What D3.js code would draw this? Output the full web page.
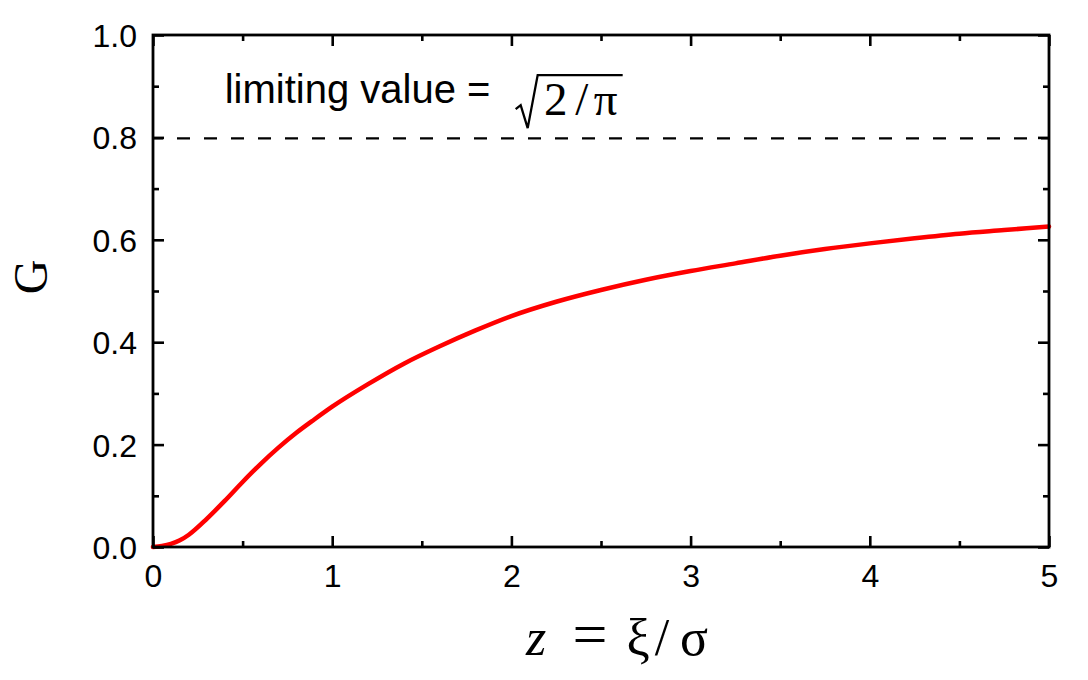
<!DOCTYPE html>
<html>
<head>
<meta charset="utf-8">
<script src="https://cdn.jsdelivr.net/npm/d3@7"></script>
<style>
  body { margin: 0; background: #fff; }
  .tick text { font-family: "Liberation Sans", Arial, sans-serif; font-size: 32px; fill: #000; }
</style>
</head>
<body>
<div id="chart"></div>
<script>
// curve
var zValues = [0, 0.05, 0.1, 0.15, 0.2, 0.3, 0.4, 0.5, 0.6, 0.7, 0.8, 0.9, 1.0, 1.2, 1.4, 1.6, 1.8, 2.0,
               2.25, 2.5, 2.75, 3.0, 3.25, 3.5, 3.75, 4.0, 4.25, 4.5, 4.75, 5.0];
var gValues = [0, 0.002, 0.006, 0.013, 0.024, 0.055, 0.090, 0.127, 0.162, 0.194, 0.223, 0.249, 0.274, 0.318, 0.358, 0.392, 0.423, 0.451,
               0.479, 0.502, 0.522, 0.539, 0.554, 0.569, 0.582, 0.593, 0.603, 0.612, 0.619, 0.626];
var limitValue = 0.798; // sqrt(2/pi)

var xTicks = [0, 1, 2, 3, 4, 5];
var xMinorTicks = [0.5, 1.5, 2.5, 3.5, 4.5];
var yTicks = [0, 0.2, 0.4, 0.6, 0.8, 1.0];
var yMinorTicks = [0.1, 0.3, 0.5, 0.7, 0.9];

var width = 1088, height = 680;
var margin = {top: 35, right: 39, bottom: 133, left: 153};
var plotW = width - margin.left - margin.right;
var plotH = height - margin.top - margin.bottom;

var svg = d3.select("#chart").append("svg")
    .attr("width", width)
    .attr("height", height)
    .style("background", "#fff");

var g = svg.append("g").attr("transform", "translate(" + margin.left + "," + margin.top + ")");

var x = d3.scaleLinear().domain([0, 5]).range([0, plotW]);
var y = d3.scaleLinear().domain([0, 1]).range([plotH, 0]);

// dashed limit line
g.append("line")
    .attr("x1", x(0)).attr("x2", x(5))
    .attr("y1", y(limitValue)).attr("y2", y(limitValue))
    .attr("stroke", "#000")
    .attr("stroke-width", 2.2)
    .attr("stroke-dasharray", "13,14")
    .attr("stroke-dashoffset", 3);

// curve
var points = zValues.map(function(z, i) { return [z, gValues[i]]; });
var line = d3.line()
    .x(function(d) { return x(d[0]); })
    .y(function(d) { return y(d[1]); })
    .curve(d3.curveMonotoneX);

g.append("path")
    .datum(points)
    .attr("d", line)
    .attr("fill", "none")
    .attr("stroke", "#ff0000")
    .attr("stroke-width", 4.5)
    .attr("stroke-linecap", "round");

// axes, ticks pointing inward on all four sides
var styleAxis = function(sel) {
    sel.select(".domain").remove();
    sel.selectAll(".tick line").attr("stroke", "#000").attr("stroke-width", 2.6);
};

g.append("g").attr("transform", "translate(0," + plotH + ")")
    .call(d3.axisBottom(x).tickValues(xTicks).tickSize(-11).tickPadding(17).tickFormat(d3.format("d")))
    .call(styleAxis);
g.append("g").attr("transform", "translate(0," + plotH + ")")
    .call(d3.axisBottom(x).tickValues(xMinorTicks).tickSize(-6).tickFormat(""))
    .call(styleAxis);
g.append("g")
    .call(d3.axisTop(x).tickValues(xTicks).tickSize(-11).tickFormat(""))
    .call(styleAxis);
g.append("g")
    .call(d3.axisTop(x).tickValues(xMinorTicks).tickSize(-6).tickFormat(""))
    .call(styleAxis);

g.append("g")
    .call(d3.axisLeft(y).tickValues(yTicks).tickSize(-11).tickPadding(16).tickFormat(d3.format(".1f")))
    .call(styleAxis)
    .selectAll(".tick text").attr("dy", "0.36em");
g.append("g")
    .call(d3.axisLeft(y).tickValues(yMinorTicks).tickSize(-6).tickFormat(""))
    .call(styleAxis);
g.append("g").attr("transform", "translate(" + plotW + ",0)")
    .call(d3.axisRight(y).tickValues(yTicks).tickSize(-11).tickFormat(""))
    .call(styleAxis);
g.append("g").attr("transform", "translate(" + plotW + ",0)")
    .call(d3.axisRight(y).tickValues(yMinorTicks).tickSize(-6).tickFormat(""))
    .call(styleAxis);

// frame
g.append("rect")
    .attr("x", 0).attr("y", 0)
    .attr("width", plotW).attr("height", plotH)
    .attr("fill", "none")
    .attr("stroke", "#000")
    .attr("stroke-width", 2.8);

// annotation: limiting value = sqrt(2/pi)
var ann = g.append("g")
    .attr("transform", "translate(" + x(0.4) + "," + y(0.867) + ")");

ann.append("text")
    .attr("x", 0).attr("y", 0)
    .style("font-family", "'Liberation Sans', Arial, sans-serif")
    .style("font-size", "40px")
    .text("limiting value =");

ann.append("path")
    .attr("d", "M291,6 L296,2 L303,25 L313,-28 L398,-28")
    .attr("fill", "none")
    .attr("stroke", "#000")
    .attr("stroke-width", 2.3)
    .attr("stroke-linejoin", "miter");

var rad = ann.append("text")
    .attr("y", 12)
    .attr("text-anchor", "middle")
    .style("font-family", "'Liberation Serif', 'Times New Roman', serif")
    .style("font-size", "47px");
rad.append("tspan").attr("x", 331).text("2");
rad.append("tspan").attr("x", 357).text("/");
rad.append("tspan").attr("x", 381).text("π");

// x axis title: z = ξ/σ
var xt = g.append("text")
    .attr("y", plotH + 108)
    .attr("text-anchor", "middle")
    .style("font-family", "'Liberation Serif', 'Times New Roman', serif")
    .style("font-size", "52px");
var cx = plotW / 2;
xt.append("tspan").attr("x", cx - 65).style("font-style", "italic").text("z");
xt.append("tspan").attr("x", cx - 11).style("font-size", "62px").text("=");
xt.append("tspan").attr("x", cx + 37).text("ξ");
xt.append("tspan").attr("x", cx + 61).text("/");
xt.append("tspan").attr("x", cx + 93).text("σ");

// y axis title
svg.append("text")
    .attr("transform", "translate(47," + (margin.top + plotH / 2 - 14) + ") rotate(-90)")
    .attr("text-anchor", "middle")
    .style("font-family", "'Liberation Serif', 'Times New Roman', serif")
    .style("font-size", "48px")
    .text("G");
</script>
</body>
</html>
